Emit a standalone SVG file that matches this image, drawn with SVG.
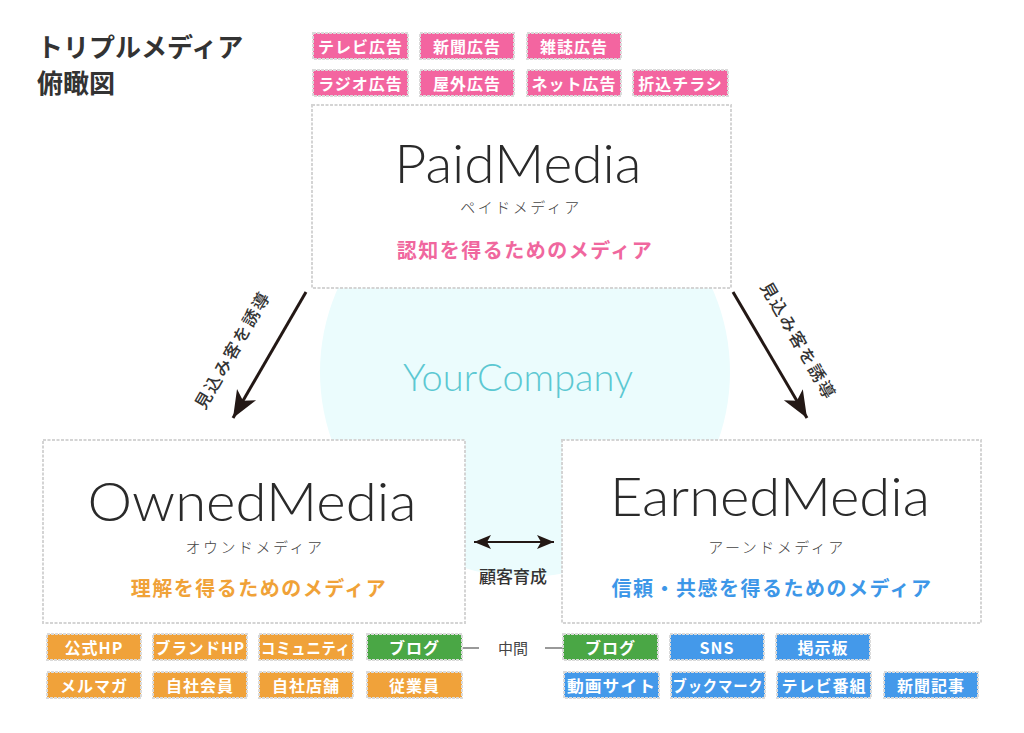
<svg xmlns="http://www.w3.org/2000/svg" width="1024" height="733" viewBox="0 0 1024 733">
<defs>
<style>
.jp{font-family:"Noto Sans CJK JP","Noto Sans",sans-serif;}
.title{font-size:26px;font-weight:700;fill:#333;}
.box{fill:#fff;stroke:#d4d4d4;stroke-width:2;stroke-dasharray:3 1.5;}
.tag{stroke:#dadada;stroke-width:2;stroke-dasharray:3 1;}
.pink{fill:#f365a0;}
.orange{fill:#f0a23a;}
.green{fill:#4aa745;}
.blue{fill:#4499ea;}
.tt{font-family:"Noto Sans CJK JP","Noto Sans",sans-serif;font-size:16px;font-weight:700;fill:#fff;text-anchor:middle;dominant-baseline:central;letter-spacing:1px;}
.big{font-family:"Lato","Noto Sans",sans-serif;font-weight:300;fill:#2a2a2a;text-anchor:middle;}
.kana{font-family:"Noto Sans CJK JP","Noto Sans",sans-serif;font-size:15px;font-weight:300;fill:#444;text-anchor:middle;letter-spacing:2.5px;}
.sub{font-family:"Noto Sans CJK JP","Noto Sans",sans-serif;font-size:20px;font-weight:700;text-anchor:middle;letter-spacing:1.5px;}
.lbl{font-family:"Noto Sans CJK JP","Noto Sans",sans-serif;font-size:17px;font-weight:500;fill:#333;text-anchor:middle;}
.arrow{stroke:#231815;stroke-width:3;fill:none;}
</style>
<marker id="bigHead" markerUnits="userSpaceOnUse" viewBox="0 -12 28 24" markerWidth="28" markerHeight="24" refX="27" refY="0" orient="auto">
<path d="M0,-11 L27,0 L0,11 L7,0 Z" fill="#231815"/>
</marker>
<marker id="smallHead" markerUnits="userSpaceOnUse" viewBox="0 -8 18 16" markerWidth="18" markerHeight="16" refX="17" refY="0" orient="auto-start-reverse">
<path d="M0,-7 L17,0 L0,7 L4,0 Z" fill="#231815"/>
</marker>
</defs>
<rect width="1024" height="733" fill="#fff"/>

<g id="title">
<text class="jp title" x="37" y="57">トリプルメディア</text>
<text class="jp title" x="37" y="93">俯瞰図</text>
</g>

<g id="your-company">
<circle cx="525" cy="372" r="205" fill="#ebfcfd"/>
<text class="big" x="518" y="391" font-size="38" style="fill:#5cc8d2" textLength="230" lengthAdjust="spacingAndGlyphs">YourCompany</text>
</g>

<g id="paid-media">
<rect class="box" x="312" y="105" width="419" height="183"/>
<text class="big" x="518" y="183" font-size="54" textLength="247" lengthAdjust="spacingAndGlyphs">PaidMedia</text>
<text class="kana" x="521" y="213">ペイドメディア</text>
<text class="sub" x="525" y="258" fill="#f0679e">認知を得るためのメディア</text>
</g>

<g id="owned-media">
<rect class="box" x="43" y="440" width="422" height="183"/>
<text class="big" x="252" y="521" font-size="54" textLength="329" lengthAdjust="spacingAndGlyphs">OwnedMedia</text>
<text class="kana" x="255" y="553">オウンドメディア</text>
<text class="sub" x="259" y="596" fill="#f0a238">理解を得るためのメディア</text>
</g>

<g id="earned-media">
<rect class="box" x="562" y="440" width="419" height="183"/>
<text class="big" x="770" y="516" font-size="54" textLength="320" lengthAdjust="spacingAndGlyphs">EarnedMedia</text>
<text class="kana" x="777" y="553">アーンドメディア</text>
<text class="sub" x="772" y="596" fill="#3d97e8">信頼・共感を得るためのメディア</text>
</g>

<g id="connectors">
<line class="arrow" x1="306" y1="292" x2="233" y2="418" marker-end="url(#bigHead)"/>
<text class="lbl" x="0" y="0" transform="translate(238,353) rotate(-60)" letter-spacing="2">見込み客を誘導</text>
<line class="arrow" x1="733" y1="292" x2="807" y2="418" marker-end="url(#bigHead)"/>
<text class="lbl" x="0" y="0" transform="translate(793,344) rotate(60)" letter-spacing="2">見込み客を誘導</text>
<line x1="474" y1="542" x2="554" y2="542" stroke="#231815" stroke-width="2" marker-start="url(#smallHead)" marker-end="url(#smallHead)"/>
<text class="lbl" x="513" y="583" font-weight="700">顧客育成</text>
<line x1="463" y1="648" x2="479" y2="648" stroke="#555" stroke-width="1.2"/>
<line x1="545" y1="648" x2="563" y2="648" stroke="#555" stroke-width="1.2"/>
<text class="jp" x="513" y="654" font-size="15" fill="#444" text-anchor="middle">中間</text>
</g>

<g id="paid-tags">
<g id="tag-tv-ad"><rect class="tag pink" x="313" y="33" width="95" height="26"/><text class="tt" x="360.5" y="46">テレビ広告</text></g>
<g id="tag-newspaper-ad"><rect class="tag pink" x="420" y="33" width="94" height="26"/><text class="tt" x="467" y="46">新聞広告</text></g>
<g id="tag-magazine-ad"><rect class="tag pink" x="527" y="33" width="94" height="26"/><text class="tt" x="574" y="46">雑誌広告</text></g>
<g id="tag-radio-ad"><rect class="tag pink" x="313" y="70" width="95" height="26"/><text class="tt" x="360.5" y="83">ラジオ広告</text></g>
<g id="tag-outdoor-ad"><rect class="tag pink" x="420" y="70" width="94" height="26"/><text class="tt" x="467" y="83">屋外広告</text></g>
<g id="tag-net-ad"><rect class="tag pink" x="527" y="70" width="94" height="26"/><text class="tt" x="574" y="83">ネット広告</text></g>
<g id="tag-flyer"><rect class="tag pink" x="633" y="70" width="95" height="26"/><text class="tt" x="680.5" y="83">折込チラシ</text></g>
</g>

<g id="owned-tags">
<g id="tag-official-hp"><rect class="tag orange" x="47" y="634" width="94" height="26"/><text class="tt" x="94" y="647">公式HP</text></g>
<g id="tag-brand-hp"><rect class="tag orange" x="153" y="634" width="94" height="26"/><text class="tt" x="200" y="647" textLength="90" lengthAdjust="spacingAndGlyphs">ブランドHP</text></g>
<g id="tag-community"><rect class="tag orange" x="259" y="634" width="94" height="26"/><text class="tt" x="306" y="647" textLength="90" lengthAdjust="spacingAndGlyphs">コミュニティ</text></g>
<g id="tag-blog-owned"><rect class="tag green" x="367" y="634" width="95" height="26"/><text class="tt" x="414.5" y="647" letter-spacing="3">ブログ</text></g>
<g id="tag-mailmag"><rect class="tag orange" x="47" y="672" width="94" height="26"/><text class="tt" x="94" y="685">メルマガ</text></g>
<g id="tag-members"><rect class="tag orange" x="153" y="672" width="94" height="26"/><text class="tt" x="200" y="685">自社会員</text></g>
<g id="tag-stores"><rect class="tag orange" x="259" y="672" width="94" height="26"/><text class="tt" x="306" y="685">自社店舗</text></g>
<g id="tag-employees"><rect class="tag orange" x="367" y="672" width="95" height="26"/><text class="tt" x="414.5" y="685">従業員</text></g>
</g>

<g id="earned-tags">
<g id="tag-blog-earned"><rect class="tag green" x="563" y="634" width="95" height="26"/><text class="tt" x="610.5" y="647" letter-spacing="3">ブログ</text></g>
<g id="tag-sns"><rect class="tag blue" x="670" y="634" width="94" height="26"/><text class="tt" x="717" y="647">SNS</text></g>
<g id="tag-bbs"><rect class="tag blue" x="776" y="634" width="94" height="26"/><text class="tt" x="823" y="647">掲示板</text></g>
<g id="tag-video"><rect class="tag blue" x="564" y="672" width="95" height="26"/><text class="tt" x="611.5" y="685" textLength="89" lengthAdjust="spacingAndGlyphs">動画サイト</text></g>
<g id="tag-bookmark"><rect class="tag blue" x="671" y="672" width="94" height="26"/><text class="tt" x="718" y="685" textLength="91" lengthAdjust="spacingAndGlyphs">ブックマーク</text></g>
<g id="tag-tv-program"><rect class="tag blue" x="777" y="672" width="94" height="26"/><text class="tt" x="824" y="685">テレビ番組</text></g>
<g id="tag-news-article"><rect class="tag blue" x="884" y="672" width="94" height="26"/><text class="tt" x="931" y="685">新聞記事</text></g>
</g>
</svg>
